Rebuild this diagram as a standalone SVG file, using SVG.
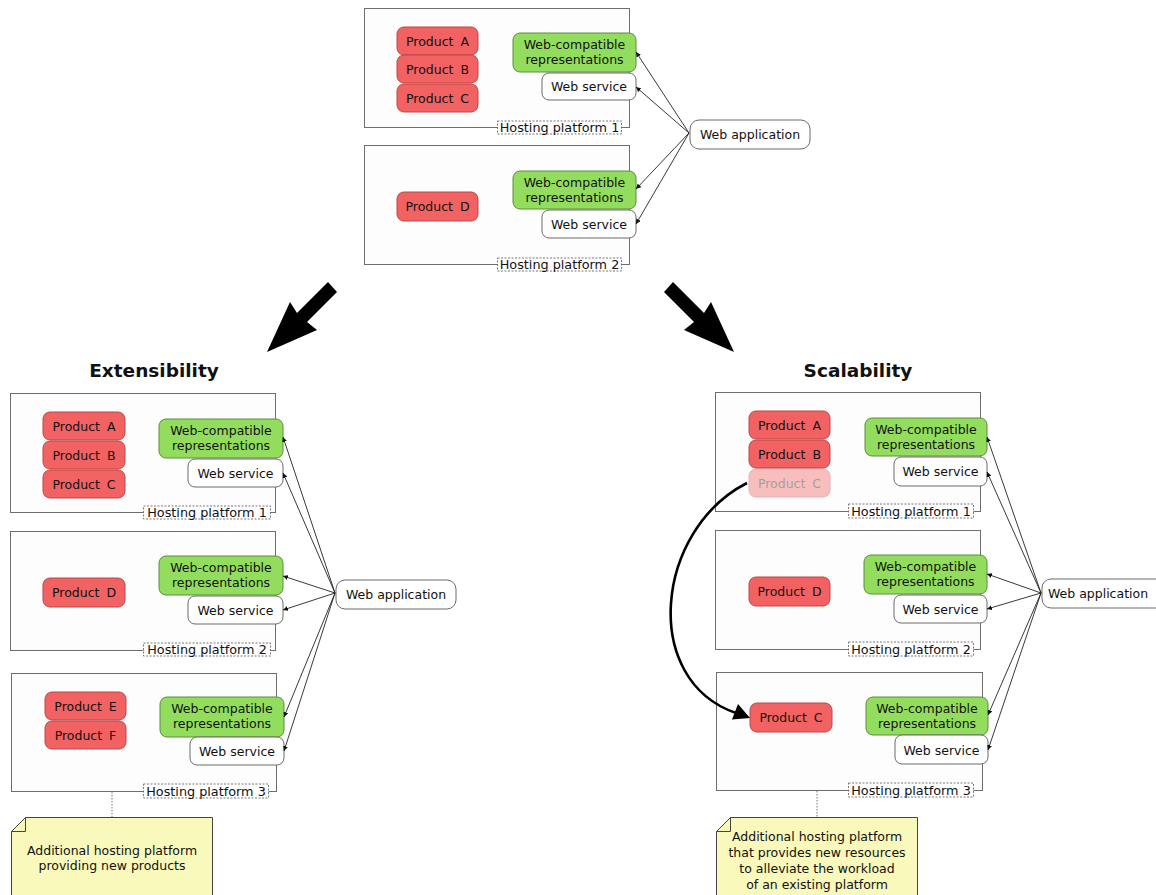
<svg xmlns="http://www.w3.org/2000/svg" width="1156" height="895" viewBox="0 0 1156 895">
<style>
text{font-family:"DejaVu Sans","Liberation Sans",sans-serif;fill:#111;}
.t{font-size:12.5px;text-anchor:middle;}
.lbl{font-size:12.8px;text-anchor:middle;}
.prod{font-size:12.5px;text-anchor:middle;word-spacing:3px;}
.title{font-size:18.5px;font-weight:bold;text-anchor:middle;}
.plat{fill:#fdfdfd;stroke:#6e6e6e;stroke-width:1;}
.pl{fill:#fff;stroke:#555;stroke-width:0.8;stroke-dasharray:2 1.5;}
.red{fill:#f26262;stroke:#b84848;stroke-width:1;}
.green{fill:#92dd5e;stroke:#5d8c3c;stroke-width:1;}
.ws{fill:#fff;stroke:#6a6a6a;stroke-width:1;}
.app{fill:#fff;stroke:#6a6a6a;stroke-width:1;}
.note{fill:#f9f9bc;stroke:#444;stroke-width:1;}
.conn{stroke:#222;stroke-width:0.9;fill:none;marker-end:url(#sa);}
.dot{stroke:#777;stroke-width:1;stroke-dasharray:1.5 1.5;fill:none;}
.big{fill:#000;}
</style>
<defs>
<marker id="sa" viewBox="0 0 6 6" refX="6" refY="3" markerWidth="5" markerHeight="5" markerUnits="userSpaceOnUse" orient="auto">
<path d="M0,0 L6,3 L0,6 z" fill="#111"/>
</marker>
</defs>
<rect width="1156" height="895" fill="#fff"/>

<!-- TOP -->
<g id="top-platform1">
<rect class="plat" x="364.5" y="8.5" width="265" height="119"/>
<rect class="red" x="397" y="27" width="81" height="28" rx="7"/>
<text class="prod" x="437.5" y="45.5">Product A</text>
<rect class="red" x="397" y="55" width="81" height="28" rx="7"/>
<text class="prod" x="437.5" y="73.5">Product B</text>
<rect class="red" x="397" y="84" width="81" height="28" rx="7"/>
<text class="prod" x="437.5" y="102.5">Product C</text>
<rect class="green" x="513" y="33" width="123" height="39" rx="7"/>
<text class="t" x="574.5" y="49">Web-compatible</text>
<text class="t" x="574.5" y="64">representations</text>
<rect class="ws" x="542" y="73" width="94" height="27" rx="7"/>
<text class="t" x="589" y="91">Web service</text>
<rect class="pl" x="497.5" y="121" width="124" height="13"/>
<text class="lbl" x="559.5" y="132">Hosting platform 1</text>
</g>
<g id="top-platform2">
<rect class="plat" x="364.5" y="145.5" width="265" height="119"/>
<rect class="red" x="397" y="192" width="81" height="29" rx="7"/>
<text class="prod" x="437.5" y="211">Product D</text>
<rect class="green" x="513" y="171" width="123" height="38" rx="7"/>
<text class="t" x="574.5" y="187">Web-compatible</text>
<text class="t" x="574.5" y="202">representations</text>
<rect class="ws" x="542" y="210" width="94" height="28" rx="7"/>
<text class="t" x="589" y="229">Web service</text>
<rect class="pl" x="497.5" y="258" width="124" height="13"/>
<text class="lbl" x="559.5" y="269">Hosting platform 2</text>
</g>
<g id="top-webapp">
<rect class="app" x="690" y="120" width="120" height="29" rx="9"/>
<text class="t" x="750" y="139">Web application</text>
</g>

<!-- big arrows -->
<g id="arrow-left">
<polygon class="big" points="328,282 337,292 307,322 317,330 267,352 290,302 297,313"/>
</g>
<g id="arrow-right">
<polygon class="big" points="673,282 664,292 694,322 684,330 734,352 711,302 704,313"/>
</g>

<g id="title-ext"><text class="title" x="154" y="377">Extensibility</text></g>
<g id="title-scal"><text class="title" x="858" y="377">Scalability</text></g>

<!-- LEFT -->
<g id="left-platform1">
<rect class="plat" x="10.5" y="393.5" width="265" height="119"/>
<rect class="red" x="43" y="412" width="82" height="28" rx="7"/>
<text class="prod" x="84" y="430.5">Product A</text>
<rect class="red" x="43" y="441" width="82" height="28" rx="7"/>
<text class="prod" x="84" y="459.5">Product B</text>
<rect class="red" x="43" y="470" width="82" height="28" rx="7"/>
<text class="prod" x="84" y="488.5">Product C</text>
<rect class="green" x="159" y="419" width="124" height="39" rx="7"/>
<text class="t" x="221" y="435">Web-compatible</text>
<text class="t" x="221" y="450">representations</text>
<rect class="ws" x="188" y="459" width="95" height="28" rx="7"/>
<text class="t" x="235.5" y="477.5">Web service</text>
<rect class="pl" x="143.5" y="506" width="127" height="13"/>
<text class="lbl" x="207" y="517">Hosting platform 1</text>
</g>
<g id="left-platform2">
<rect class="plat" x="10.5" y="531.5" width="265" height="119"/>
<rect class="red" x="43" y="578" width="82" height="29" rx="7"/>
<text class="prod" x="84" y="597">Product D</text>
<rect class="green" x="159" y="556" width="124" height="39" rx="7"/>
<text class="t" x="221" y="572">Web-compatible</text>
<text class="t" x="221" y="587">representations</text>
<rect class="ws" x="188" y="596" width="95" height="28" rx="7"/>
<text class="t" x="235.5" y="614.5">Web service</text>
<rect class="pl" x="143.5" y="643" width="127" height="13"/>
<text class="lbl" x="207" y="654">Hosting platform 2</text>
</g>
<g id="left-platform3">
<rect class="plat" x="11.5" y="673.5" width="265" height="118"/>
<rect class="red" x="45" y="692" width="81" height="28" rx="7"/>
<text class="prod" x="85.5" y="710.5">Product E</text>
<rect class="red" x="45" y="721" width="81" height="28" rx="7"/>
<text class="prod" x="85.5" y="739.5">Product F</text>
<rect class="green" x="160" y="697" width="124" height="40" rx="7"/>
<text class="t" x="222" y="713">Web-compatible</text>
<text class="t" x="222" y="728">representations</text>
<rect class="ws" x="190" y="737" width="94" height="28" rx="7"/>
<text class="t" x="237" y="755.5">Web service</text>
<rect class="pl" x="143.5" y="784" width="125" height="14"/>
<text class="lbl" x="206" y="795.5">Hosting platform 3</text>
</g>
<g id="left-webapp">
<rect class="app" x="336" y="580" width="120" height="29" rx="9"/>
<text class="t" x="396" y="599">Web application</text>
</g>
<g id="left-note">
<path class="note" d="M25.5,817.5 H212.5 V896 H11.5 V831.5 Z"/>
<path d="M11.5,831.5 L25.5,831.5 L25.5,817.5" fill="none" stroke="#444" stroke-width="1"/>
<text class="t" x="112" y="855">Additional hosting platform</text>
<text class="t" x="112" y="870">providing new products</text>
</g>

<!-- RIGHT -->
<g id="right-platform1">
<rect class="plat" x="715.5" y="392.5" width="265" height="119"/>
<rect class="red" x="749" y="411" width="81" height="28" rx="7"/>
<text class="prod" x="789.5" y="429.5">Product A</text>
<rect class="red" x="749" y="440" width="81" height="28" rx="7"/>
<text class="prod" x="789.5" y="458.5">Product B</text>
<g opacity="0.4">
<rect class="red" x="749" y="469" width="81" height="28" rx="7"/>
<text class="prod" x="789.5" y="487.5">Product C</text>
</g>
<rect class="green" x="865" y="418" width="122" height="38" rx="7"/>
<text class="t" x="926" y="434">Web-compatible</text>
<text class="t" x="926" y="449">representations</text>
<rect class="ws" x="894" y="457" width="93" height="29" rx="7"/>
<text class="t" x="940.5" y="476">Web service</text>
<rect class="pl" x="848.5" y="504" width="125" height="14"/>
<text class="lbl" x="911" y="515.5">Hosting platform 1</text>
</g>
<g id="right-platform2">
<rect class="plat" x="715.5" y="530.5" width="265" height="119"/>
<rect class="red" x="749" y="577" width="81" height="29" rx="7"/>
<text class="prod" x="789.5" y="596">Product D</text>
<rect class="green" x="864" y="555" width="123" height="39" rx="7"/>
<text class="t" x="925.5" y="571">Web-compatible</text>
<text class="t" x="925.5" y="586">representations</text>
<rect class="ws" x="894" y="595" width="93" height="28" rx="7"/>
<text class="t" x="940.5" y="613.5">Web service</text>
<rect class="pl" x="848.5" y="642" width="125" height="14"/>
<text class="lbl" x="911" y="653.5">Hosting platform 2</text>
</g>
<g id="right-platform3">
<rect class="plat" x="716.5" y="672.5" width="266" height="118"/>
<rect class="red" x="750" y="703" width="82" height="29" rx="7"/>
<text class="prod" x="791" y="722">Product C</text>
<rect class="green" x="866" y="697" width="122" height="38" rx="7"/>
<text class="t" x="927" y="713">Web-compatible</text>
<text class="t" x="927" y="728">representations</text>
<rect class="ws" x="895" y="735" width="93" height="29" rx="7"/>
<text class="t" x="941.5" y="754.5">Web service</text>
<rect class="pl" x="848.5" y="783" width="125" height="14"/>
<text class="lbl" x="911" y="794.5">Hosting platform 3</text>
</g>
<g id="right-webapp">
<rect class="app" x="1042" y="579" width="125" height="29" rx="9"/>
<text class="t" x="1098" y="598">Web application</text>
</g>
<g id="right-note">
<path class="note" d="M730.5,817.5 H917.5 V896 H716.5 V831.5 Z"/>
<path d="M716.5,831.5 L730.5,831.5 L730.5,817.5" fill="none" stroke="#444" stroke-width="1"/>
<text class="t" x="817" y="841">Additional hosting platform</text>
<text class="t" x="817" y="857">that provides new resources</text>
<text class="t" x="817" y="873">to alleviate the workload</text>
<text class="t" x="817" y="889">of an existing platform</text>
</g>

<!-- CONNECTORS -->
<g id="connectors">
<path class="conn" d="M689,133 L636,52"/>
<path class="conn" d="M689,133 L636,87"/>
<path class="conn" d="M689,133 L636,189"/>
<path class="conn" d="M689,133 L636,224"/>

<path class="conn" d="M335,593 L283,437"/>
<path class="conn" d="M335,593 L283,473"/>
<path class="conn" d="M335,593 L283,576"/>
<path class="conn" d="M335,593 L283,610"/>
<path class="conn" d="M335,593 L284,717"/>
<path class="conn" d="M335,593 L284,751"/>

<path class="conn" d="M1041,593 L987,437"/>
<path class="conn" d="M1041,593 L987,472"/>
<path class="conn" d="M1041,593 L987,574"/>
<path class="conn" d="M1041,593 L987,609"/>
<path class="conn" d="M1041,593 L988,715"/>
<path class="conn" d="M1041,593 L988,750"/>

<path class="dot" d="M112,792 V817"/>
<path class="dot" d="M817,791 V817"/>

<path d="M747,483 C655,530 640,680 736,713" fill="none" stroke="#000" stroke-width="2.6"/>
<polygon points="750,718 732,719.5 738,704" fill="#000"/>
</g>
</svg>
